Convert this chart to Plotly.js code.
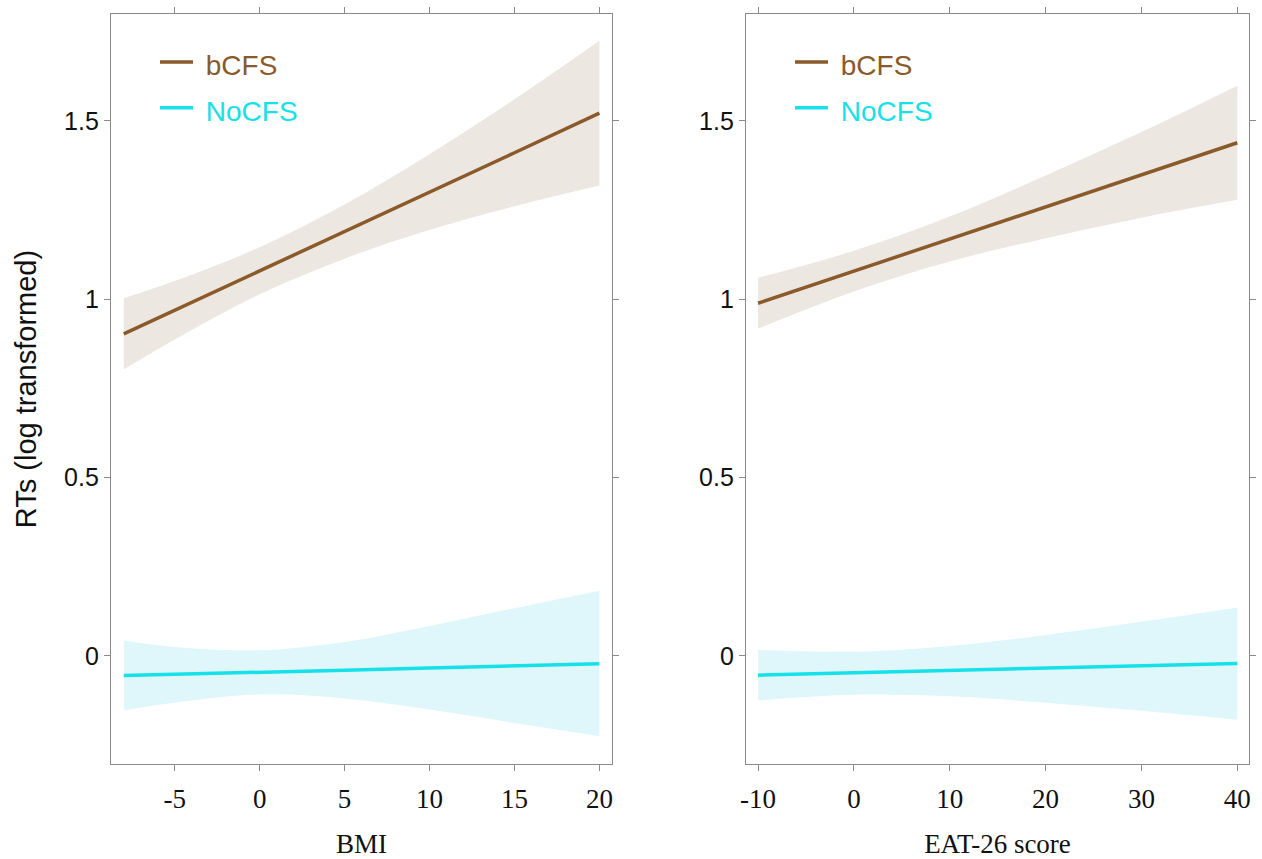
<!DOCTYPE html>
<html>
<head>
<meta charset="utf-8">
<script src="https://cdn.plot.ly/plotly-3.0.1.min.js"></script>
<style>html,body{margin:0;padding:0;background:#fff;}#chart{width:1262px;height:859px;}</style>
</head>
<body>
<div id="chart"></div>
<script>
// ---- Data: left panel (BMI) ----
const bmiX        = [-8, -5, 0, 5, 10, 15, 20];
const bmiB_fit    = [0.903, 0.969, 1.080, 1.190, 1.301, 1.411, 1.522];
const bmiB_upper  = [1.003, 1.051, 1.146, 1.266, 1.407, 1.561, 1.725];
const bmiB_lower  = [0.803, 0.887, 1.014, 1.114, 1.195, 1.261, 1.319];
const bmiN_fit    = [-0.055, -0.051, -0.046, -0.040, -0.034, -0.028, -0.022];
const bmiN_upper  = [0.043, 0.025, 0.016, 0.039, 0.084, 0.134, 0.183];
const bmiN_lower  = [-0.152, -0.131, -0.108, -0.119, -0.150, -0.188, -0.225];

// ---- Data: right panel (EAT-26) ----
const eatX        = [-10, 0, 10, 20, 30, 40];
const eatB_fit    = [0.989, 1.079, 1.169, 1.259, 1.349, 1.439];
const eatB_upper  = [1.060, 1.136, 1.232, 1.347, 1.469, 1.599];
const eatB_lower  = [0.918, 1.022, 1.106, 1.171, 1.229, 1.279];
const eatN_fit    = [-0.054, -0.047, -0.041, -0.034, -0.028, -0.021];
const eatN_upper  = [0.017, 0.012, 0.028, 0.059, 0.096, 0.136];
const eatN_lower  = [-0.125, -0.109, -0.113, -0.131, -0.154, -0.179];

const seriesNames = ['bCFS', 'NoCFS'];
const xTitles = ['BMI', 'EAT-26 score'];
const yTitle = 'RTs (log transformed)';
const yTicks = [0, 0.5, 1, 1.5];
const yTickText = ['0', '0.5', '1', '1.5'];
const bmiTicks = [-5, 0, 5, 10, 15, 20];
const bmiTickText = ['-5', '0', '5', '10', '15', '20'];
const eatTicks = [-10, 0, 10, 20, 30, 40];
const eatTickText = ['-10', '0', '10', '20', '30', '40'];

const colB = '#8b5a2b', colN = '#16e0e8';
const bandB = '#ece7e1', bandN = '#dff7fb';

function band(x, lo, hi, color, xa, ya) {
  return [
    {x: x, y: lo, xaxis: xa, yaxis: ya, type: 'scatter', mode: 'lines',
     line: {width: 0, shape: 'spline', smoothing: 1, color: color}, showlegend: false, hoverinfo: 'skip'},
    {x: x, y: hi, xaxis: xa, yaxis: ya, type: 'scatter', mode: 'lines', fill: 'tonexty',
     fillcolor: color, line: {width: 0, shape: 'spline', smoothing: 1, color: color}, showlegend: false, hoverinfo: 'skip'}
  ];
}
function fit(x, y, color, name, xa, ya, leg) {
  return {x: x, y: y, xaxis: xa, yaxis: ya, type: 'scatter', mode: 'lines',
    line: {color: color, width: 3.5},
    name: '<span style="color:' + color + ';font-size:28px">\u00a0' + name + '</span>',
    legend: leg, showlegend: true};
}

const traces = [].concat(
  band(bmiX, bmiB_lower, bmiB_upper, bandB, 'x', 'y'),
  band(bmiX, bmiN_lower, bmiN_upper, bandN, 'x', 'y'),
  [fit(bmiX, bmiB_fit, colB, seriesNames[0], 'x', 'y', 'legend'),
   fit(bmiX, bmiN_fit, colN, seriesNames[1], 'x', 'y', 'legend')],
  band(eatX, eatB_lower, eatB_upper, bandB, 'x2', 'y2'),
  band(eatX, eatN_lower, eatN_upper, bandN, 'x2', 'y2'),
  [fit(eatX, eatB_fit, colB, seriesNames[0], 'x2', 'y2', 'legend2'),
   fit(eatX, eatN_fit, colN, seriesNames[1], 'x2', 'y2', 'legend2')]
);

const axisCommon = {
  showline: true, linecolor: '#8a8a8a', linewidth: 1.2, mirror: 'ticks',
  ticks: 'outside', ticklen: 6, tickcolor: '#8a8a8a', tickwidth: 1,
  showgrid: false, zeroline: false
};
const serifFont = {family: 'Liberation Serif, Times New Roman, serif', size: 27, color: '#111'};
const sansFont = {family: 'Liberation Sans, Arial, sans-serif', size: 25, color: '#111'};
const sansTitleFont = {family: 'Liberation Sans, Arial, sans-serif', size: 29, color: '#111'};

const legendCommon = {
  font: {family: 'Liberation Sans, Arial, sans-serif', size: 33, color: '#111'},
  bgcolor: 'rgba(0,0,0,0)', borderwidth: 0, itemwidth: 33,
  xanchor: 'left', yanchor: 'top', traceorder: 'normal', tracegroupgap: 0
};

const layout = {
  width: 1262, height: 859,
  margin: {l: 0, r: 0, t: 0, b: 0},
  paper_bgcolor: '#fff', plot_bgcolor: '#fff',
  showlegend: true,
  xaxis: Object.assign({}, axisCommon, {
    domain: [111/1262, 612/1262], range: [-8.75, 20.74],
    tickvals: bmiTicks, ticktext: bmiTickText, tickfont: serifFont, ticklabelstandoff: 4,
    title: {text: xTitles[0], font: serifFont, standoff: 24}, anchor: 'y'
  }),
  yaxis: Object.assign({}, axisCommon, {
    domain: [1 - 764/859, 1 - 14/859], range: [-0.303, 1.80],
    tickvals: yTicks, ticktext: yTickText, tickfont: sansFont,
    title: {text: yTitle, font: sansTitleFont, standoff: 18}, anchor: 'x'
  }),
  xaxis2: Object.assign({}, axisCommon, {
    domain: [746/1262, 1249/1262], range: [-11.26, 41.22],
    tickvals: eatTicks, ticktext: eatTickText, tickfont: serifFont, ticklabelstandoff: 4,
    title: {text: xTitles[1], font: serifFont, standoff: 24}, anchor: 'y2'
  }),
  yaxis2: Object.assign({}, axisCommon, {
    domain: [1 - 764/859, 1 - 14/859], range: [-0.303, 1.80],
    tickvals: yTicks, ticktext: yTickText, tickfont: sansFont, anchor: 'x2'
  }),
  legend: Object.assign({}, legendCommon, {x: 155/1262, y: 1 - 34/859}),
  legend2: Object.assign({}, legendCommon, {x: 790/1262, y: 1 - 34/859})
};

Plotly.newPlot('chart', traces, layout, {displayModeBar: false, staticPlot: true});
</script>
</body>
</html>
